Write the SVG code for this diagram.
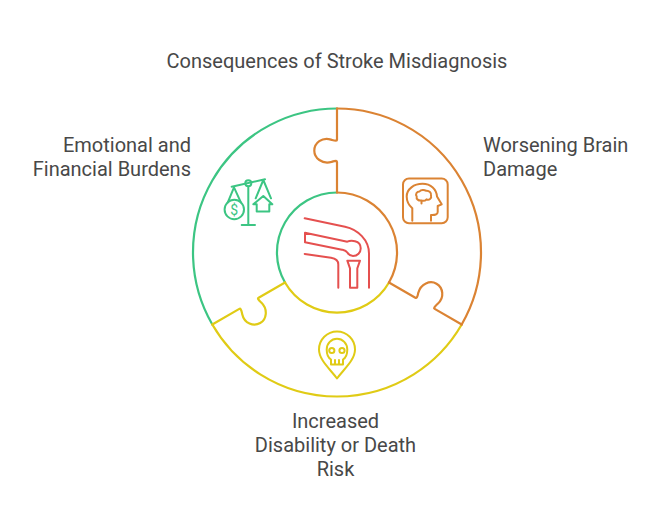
<svg xmlns="http://www.w3.org/2000/svg" xmlns:xlink="http://www.w3.org/1999/xlink" width="663" height="530" viewBox="0 0 663 530">
<style>
text{font-family:Roboto,"Liberation Sans",sans-serif;font-size:20px;fill:#484848}
.s{fill:none;stroke-width:2.2;stroke-linejoin:round;stroke-linecap:round}
.i{fill:none;stroke-width:2;stroke-linejoin:round;stroke-linecap:round}
.g{stroke:#3CC583}.y{stroke:#E0CB15}.o{stroke:#DB8333}.r{stroke:#E5504F}
</style>
<defs>
<path id="seam" d="M337 192.5V162Q337 161 336 160.9C334 160.9 333.5 161.2 331.5 161.9C322 164.5 314.3 158 314.3 150.7C314.3 143 322 136.8 331 139.6C333.5 140.4 334 140.7 336 140.7Q337 140.7 337 139.7V108.5"/>
</defs>
<rect width="663" height="530" fill="#fff"/>
<text x="337" y="68" text-anchor="middle">Consequences of Stroke Misdiagnosis</text>
<g id="node-burdens">
<path class="s g" d="M212.3 324.5A144 144 0 0 1 337 108.5"/>
<path class="s g" d="M285 282.5A60 60 0 0 1 337 192.5"/>
<g class="i g">
<path d="M231.7 186.7L265 179.3M248.3 186.5V225M241.7 225H255"/>
<circle cx="248.3" cy="183.3" r="3"/>
<path d="M227.7 202.7L234 187.3L241 202.7M255.7 198.3L263.3 180L271 198.3"/>
<circle cx="234.3" cy="209.5" r="9.7"/>
<path d="M253.3 204.3L263.3 196L272.3 204.3H269.3V211.5H256.7V204.3Z"/>
</g>
<text x="234.3" y="214.5" text-anchor="middle" style="font-size:14px;fill:#3CC583">$</text>
<text x="191" y="152" text-anchor="end">Emotional and</text>
<text x="191" y="176" text-anchor="end">Financial Burdens</text>
</g>
<g id="node-death">
<path class="s y" d="M212.3 324.5A144 144 0 0 0 461.7 324.5"/>
<path class="s y" d="M285 282.5A60 60 0 0 0 389 282.5"/>
<use href="#seam" class="s y" transform="rotate(240 337 252.5)"/>
<g class="i y">
<path d="M337 378.5C330 369 319 360 319 349.5A18 18 0 0 1 355 349.5C355 360 344 369 337 378.5Z"/>
<path d="M331 364.5V359.5C328.5 358 326.7 354.5 326.7 349.5A10.3 10.8 0 0 1 347.3 349.5C347.3 354.5 345.5 358 343 359.5V364.5ZM335 360V364.5M339 360V364.5"/>
<circle cx="331.8" cy="350.5" r="2.6"/><circle cx="342" cy="350.5" r="2.6"/>
</g>
<text x="335.5" y="428" text-anchor="middle">Increased</text>
<text x="335.5" y="452" text-anchor="middle">Disability or Death</text>
<text x="335.5" y="476" text-anchor="middle">Risk</text>
</g>
<g id="node-brain">
<path class="s o" d="M337 108.5A144 144 0 0 1 461.7 324.5"/>
<path class="s o" d="M337 192.5A60 60 0 0 1 389 282.5"/>
<use href="#seam" class="s o"/>
<use href="#seam" class="s o" transform="rotate(120 337 252.5)"/>
<g class="i o">
<rect x="403" y="178.5" width="44.7" height="44.7" rx="6"/>
<path d="M412.3 220.7V208.3C408.5 205 406.7 200.5 406.7 196.5C406.7 189 414 183.8 422.5 183.8C431 183.8 436.5 189.5 437 196.5L441.7 204.3L437.7 206V212C437.7 214.5 435 215.2 431 215V220.7"/>
<path d="M421.5 203.5V200.5C418.5 201 416 199 416.7 196.5C415 194 417 191.5 419.5 191.5C421 189.5 424.5 189.5 426 190.8C429 190.3 431.8 193 431 195.5C432 198.5 429 200.5 426.5 199.3C425 201 423 201 421.5 200.5"/>
</g>
<text x="483" y="152">Worsening Brain</text>
<text x="483" y="176">Damage</text>
</g>
<g id="node-center">
<g class="i r">
<path d="M304.7 218.3L345 226.7C358 229.5 369 240 369 253.5V287.7"/>
<path d="M305 232.7L347.3 241.7C350 240.5 353 240.8 355 241.2C358.5 242 360.7 245 360.7 248.3A7.7 7.5 0 0 1 353 256C350 256 348.5 254.5 347.3 252.5C346 250.5 344.5 250.3 342 249.7L305 242.3Z"/>
<path d="M304.7 254L331 257.7C335.5 258.3 338.3 260.5 338.3 264.5V287.7"/>
<path d="M347.3 260.7H360L357.3 268.3V287.7H350V268.3Z"/>
</g>
</g>
<g id="connectors"></g>
</svg>
